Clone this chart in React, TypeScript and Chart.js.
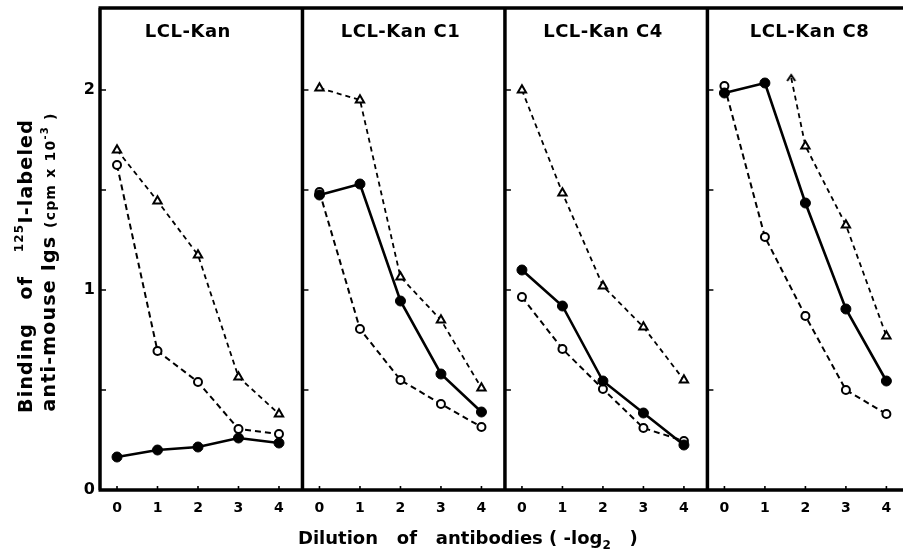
import React, { useEffect, useRef } from 'react';
import { Chart, registerables } from 'chart.js';

Chart.register(...registerables);

// ---- data ----
const dilutions = [0, 1, 2, 3, 4];
const xTickLabels = ['0', '1', '2', '3', '4'];
const yTickValues = [0, 0.5, 1, 1.5, 2];
const panelTitles = ['LCL-Kan', 'LCL-Kan C1', 'LCL-Kan C4', 'LCL-Kan C8'];

const filledKan = [0.165, 0.2, 0.215, 0.26, 0.235];
const openKan = [1.625, 0.695, 0.54, 0.305, 0.28];
const triKan = [1.7, 1.445, 1.175, 0.565, 0.38];

const filledC1 = [1.475, 1.53, 0.945, 0.58, 0.39];
const openC1 = [1.49, 0.805, 0.55, 0.43, 0.315];
const triC1 = [2.01, 1.95, 1.065, 0.85, 0.51];

const filledC4 = [1.1, 0.92, 0.545, 0.385, 0.225];
const openC4 = [0.965, 0.705, 0.505, 0.31, 0.245];
const triC4 = [2.0, 1.485, 1.02, 0.815, 0.55];

const filledC8 = [1.985, 2.035, 1.435, 0.905, 0.545];
const openC8 = [2.02, 1.265, 0.87, 0.5, 0.38];
const triC8Dilutions = [1.65, 2, 3, 4];
const triC8 = [2.06, 1.72, 1.325, 0.77];

// ---- layout constants ----
const FONT = "'DejaVu Sans', sans-serif";
const PANEL_SPAN = 5;
const X_MIN = -0.42;
const X_MAX = 19.41;
const Y_MAX = 2.41;
const TITLE_CENTERS = [1.75, 2.0, 2.0, 2.1];

function makeCaret(): HTMLCanvasElement {
  const c = document.createElement('canvas');
  c.width = 12;
  c.height = 10;
  const g = c.getContext('2d')!;
  g.strokeStyle = '#000';
  g.lineWidth = 2;
  g.beginPath();
  g.moveTo(2, 8);
  g.lineTo(6, 2);
  g.lineTo(10, 8);
  g.stroke();
  return c;
}

export default function App() {
  const ref = useRef<HTMLCanvasElement>(null);

  useEffect(() => {
    const canvas = ref.current!;
    const caret = makeCaret();

    const panels = [
      { filled: filledKan, open: openKan, tri: triKan, triX: dilutions },
      { filled: filledC1, open: openC1, tri: triC1, triX: dilutions },
      { filled: filledC4, open: openC4, tri: triC4, triX: dilutions },
      { filled: filledC8, open: openC8, tri: triC8, triX: triC8Dilutions },
    ];

    const datasets: any[] = [];
    panels.forEach((p, k) => {
      const off = k * PANEL_SPAN;
      datasets.push({
        label: panelTitles[k] + ' filled',
        data: p.filled.map((v, i) => ({ x: off + dilutions[i], y: v })),
        borderColor: '#000',
        backgroundColor: '#000',
        borderWidth: 2.6,
        pointRadius: 5,
        pointBorderWidth: 1,
        pointBackgroundColor: '#000',
        pointBorderColor: '#000',
        tension: 0,
      });
      datasets.push({
        label: panelTitles[k] + ' open',
        data: p.open.map((v, i) => ({ x: off + dilutions[i], y: v })),
        borderColor: '#000',
        backgroundColor: '#fff',
        borderWidth: 2,
        borderDash: [6, 4],
        pointRadius: 4,
        pointBorderWidth: 2,
        pointBackgroundColor: '#fff',
        pointBorderColor: '#000',
        tension: 0,
      });
      datasets.push({
        label: panelTitles[k] + ' triangle',
        data: p.tri.map((v, i) => ({ x: off + p.triX[i], y: v })),
        borderColor: '#000',
        backgroundColor: '#fff',
        borderWidth: 1.8,
        borderDash: [5, 4],
        pointRadius: 4.8,
        pointBorderWidth: 2,
        pointBackgroundColor: '#fff',
        pointBorderColor: '#000',
        pointStyle: p.triX === dilutions ? 'triangle' : p.tri.map((_, i) => (i === 0 ? caret : 'triangle')),
        tension: 0,
      });
    });

    const framePlugin = {
      id: 'frame',
      beforeDatasetsDraw(chart: any) {
        const { ctx, chartArea } = chart;
        const xs = chart.scales.x;
        const ys = chart.scales.y;
        ctx.save();
        ctx.strokeStyle = '#000';
        ctx.lineCap = 'butt';
        ctx.lineWidth = 3.5;
        ctx.beginPath();
        ctx.moveTo(chartArea.left - 1.5, chartArea.top);
        ctx.lineTo(chartArea.right, chartArea.top);
        ctx.moveTo(chartArea.left - 1.5, chartArea.bottom);
        ctx.lineTo(chartArea.right, chartArea.bottom);
        for (let k = 0; k < panelTitles.length; k++) {
          const bx = xs.getPixelForValue(X_MIN + k * PANEL_SPAN);
          ctx.moveTo(bx, chartArea.top);
          ctx.lineTo(bx, chartArea.bottom);
        }
        ctx.stroke();
        // inward ticks
        ctx.lineWidth = 1.6;
        ctx.beginPath();
        for (let k = 0; k < panelTitles.length; k++) {
          const bx = xs.getPixelForValue(X_MIN + k * PANEL_SPAN);
          yTickValues.forEach((v) => {
            if (v === 0) return;
            const py = ys.getPixelForValue(v);
            ctx.moveTo(bx, py);
            ctx.lineTo(bx + 6, py);
          });
          dilutions.forEach((d) => {
            const px = xs.getPixelForValue(k * PANEL_SPAN + d);
            ctx.moveTo(px, chartArea.bottom);
            ctx.lineTo(px, chartArea.bottom - 4);
          });
        }
        ctx.stroke();
        ctx.restore();
      },
      afterDraw(chart: any) {
        const { ctx } = chart;
        const xs = chart.scales.x;
        ctx.save();
        ctx.fillStyle = '#000';
        // panel titles
        ctx.font = `bold 18px ${FONT}`;
        (ctx as any).letterSpacing = '0.5px';
        ctx.textAlign = 'center';
        ctx.textBaseline = 'middle';
        panelTitles.forEach((t, k) => {
          ctx.fillText(t, xs.getPixelForValue(k * PANEL_SPAN + TITLE_CENTERS[k]), 32);
        });
        (ctx as any).letterSpacing = '0px';

        // x axis title
        ctx.textAlign = 'left';
        ctx.textBaseline = 'alphabetic';
        let x = 298;
        const base = 544;
        const parts: [string, number, number][] = [
          ['Dilution   of   antibodies ( -log', 18, 0],
          ['2', 12, 5],
          ['   )', 18, 0],
        ];
        parts.forEach(([s, size, dy]) => {
          ctx.font = `bold ${size}px ${FONT}`;
          ctx.fillText(s, x, base + dy);
          x += ctx.measureText(s).width;
        });

        // y axis title (rotated)
        const drawRot = (cx: number, cy: number, spacing: number, segs: [string, number, number][]) => {
          (ctx as any).letterSpacing = spacing + 'px';
          let total = 0;
          segs.forEach(([s, size]) => {
            ctx.font = `bold ${size}px ${FONT}`;
            total += ctx.measureText(s).width;
          });
          ctx.save();
          ctx.translate(cx, cy);
          ctx.rotate(-Math.PI / 2);
          let px = -total / 2;
          ctx.textAlign = 'left';
          ctx.textBaseline = 'middle';
          segs.forEach(([s, size, dy]) => {
            ctx.font = `bold ${size}px ${FONT}`;
            ctx.fillText(s, px, dy);
            px += ctx.measureText(s).width;
          });
          ctx.restore();
          (ctx as any).letterSpacing = '0px';
        };
        drawRot(27, 266, 1.2, [
          ['Binding   of   ', 19, 0],
          ['125', 12, -7],
          ['I-labeled', 19, 0],
        ]);
        drawRot(50, 262, 1.2, [
          ['anti-mouse Igs ', 19, 0],
          ['(cpm x 10', 14, 1],
          ['-3', 10, -5],
          [' )', 14, 1],
        ]);
        ctx.restore();
      },
    };

    const noPad = (s: any) => {
      s.paddingTop = 0;
      s.paddingBottom = 0;
      s.paddingLeft = 0;
      s.paddingRight = 0;
    };

    const chart = new Chart(canvas, {
      type: 'line',
      data: { datasets },
      options: {
        animation: false,
        responsive: false,
        maintainAspectRatio: false,
        layout: { autoPadding: false, padding: { top: 8, right: 0, bottom: 0, left: 0 } },
        plugins: { legend: { display: false }, tooltip: { enabled: false }, title: { display: false } },
        scales: {
          x: {
            type: 'linear',
            min: X_MIN,
            max: X_MAX,
            grid: { display: false, drawTicks: false },
            border: { display: false },
            afterBuildTicks: (s: any) => {
              const ticks: any[] = [];
              panelTitles.forEach((_, k) => dilutions.forEach((d) => ticks.push({ value: k * PANEL_SPAN + d })));
              s.ticks = ticks;
            },
            afterFit: (s: any) => {
              s.height = 63;
              noPad(s);
            },
            ticks: {
              autoSkip: false,
              maxRotation: 0,
              padding: 10,
              color: '#000',
              font: { family: FONT, size: 14, weight: 'bold' },
              callback: (v: any) => xTickLabels[Math.round(v) % PANEL_SPAN],
            },
          },
          y: {
            type: 'linear',
            min: 0,
            max: Y_MAX,
            grid: { display: false, drawTicks: false },
            border: { display: false },
            afterBuildTicks: (s: any) => {
              s.ticks = yTickValues.map((v) => ({ value: v }));
            },
            afterFit: (s: any) => {
              s.width = 100;
              noPad(s);
            },
            ticks: {
              padding: 5,
              color: '#000',
              font: { family: FONT, size: 16, weight: 'bold' },
              callback: (v: any) => (Number.isInteger(v) ? String(v) : ''),
            },
          },
        },
      },
      plugins: [framePlugin],
    } as any);

    return () => chart.destroy();
  }, []);

  return (
    <div style={{ position: 'absolute', left: 0, top: 0, width: 903, height: 553, background: '#fff' }}>
      <canvas ref={ref} width={903} height={553} style={{ display: 'block' }} />
    </div>
  );
}
